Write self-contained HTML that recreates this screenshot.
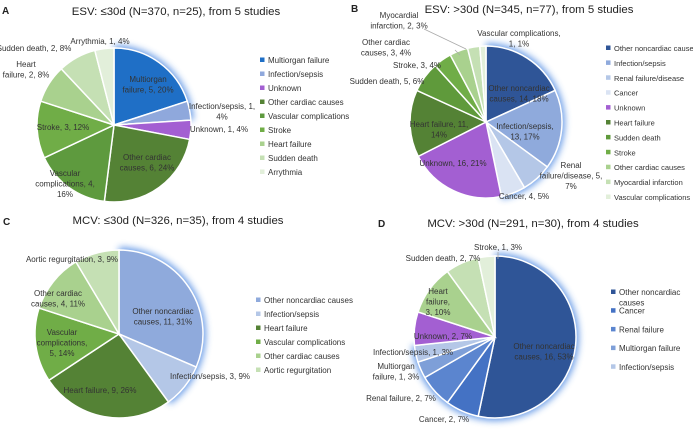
<!DOCTYPE html>
<html><head><meta charset="utf-8">
<style>
html,body{margin:0;padding:0;background:#fff;}
svg{display:block;font-family:"Liberation Sans",Arial,sans-serif;}
</style></head>
<body>
<svg id="fig" width="693" height="430" viewBox="0 0 693 430">
<defs>
<filter id="glow" x="-30%" y="-30%" width="160%" height="160%"><feGaussianBlur stdDeviation="3.5"/></filter>
</defs>
<g font-size="11.4" fill="#222">
<text x="2" y="14" font-weight="bold" font-size="10">A</text>
<text x="176" y="15" text-anchor="middle">ESV: ≤30d (N=370, n=25), from 5 studies</text>
<text x="351" y="12" font-weight="bold" font-size="10">B</text>
<text x="529" y="13" text-anchor="middle">ESV: &gt;30d (N=345, n=77), from 5 studies</text>
<text x="3" y="225" font-weight="bold" font-size="10">C</text>
<text x="178" y="224" text-anchor="middle">MCV: ≤30d (N=326, n=35), from 4 studies</text>
<text x="378" y="227" font-weight="bold" font-size="10">D</text>
<text x="533" y="227" text-anchor="middle">MCV: &gt;30d (N=291, n=30), from 4 studies</text>
</g>
</svg>
<script>
// ---- Chart A data ----
const catsA = ["Multiorgan failure","Infection/sepsis","Unknown","Other cardiac causes","Vascular complications","Stroke","Heart failure","Sudden death","Arrythmia"];
const valsA = [5,1,1,6,4,3,2,2,1];
const pctA = [20,4,4,24,16,12,8,8,4];
const lblA = ["Multiorgan|failure, {v}, {p}%","Infection/sepsis, {v},|{p}%","Unknown, {v}, {p}%","Other cardiac|causes, {v}, {p}%","Vascular|complications, {v},|{p}%","Stroke, {v}, {p}%","Heart|failure, {v}, {p}%","Sudden death, {v}, {p}%","Arrythmia, {v}, {p}%"];
// ---- Chart B data ----
const catsB = ["Other noncardiac causes","Infection/sepsis","Renal failure/disease","Cancer","Unknown","Heart failure","Sudden death","Stroke","Other cardiac causes","Myocardial infarction","Vascular complications"];
const valsB = [14,13,5,4,16,11,5,3,3,2,1];
const pctB = [18,17,7,5,21,14,6,4,4,3,1];
const lblB = ["Other noncardiac|causes, {v}, {p}%","Infection/sepsis,|{v}, {p}%","Renal|failure/disease, {v},|{p}%","Cancer, {v}, {p}%","Unknown, {v}, {p}%","Heart failure, {v},|{p}%","Sudden death, {v}, {p}%","Stroke, {v}, {p}%","Other cardiac|causes, {v}, {p}%","Myocardial|infarction, {v}, {p}%","Vascular complications,|{v}, {p}%"];
// ---- Chart C data ----
const catsC = ["Other noncardiac causes","Infection/sepsis","Heart failure","Vascular complications","Other cardiac causes","Aortic regurgitation"];
const valsC = [11,3,9,5,4,3];
const pctC = [31,9,26,14,11,9];
const lblC = ["Other noncardiac|causes, {v}, {p}%","Infection/sepsis, {v}, {p}%","Heart failure, {v}, {p}%","Vascular|complications,|{v}, {p}%","Other cardiac|causes, {v}, {p}%","Aortic regurgitation, {v}, {p}%"];
// ---- Chart D data ----
const catsD = ["Other noncardiac causes","Cancer","Renal failure","Multiorgan failure","Infection/sepsis","Unknown","Heart failure","Sudden death","Stroke"];
const valsD = [16,2,2,1,1,2,3,2,1];
const pctD = [53,7,7,3,3,7,10,7,3];
const lblD = ["Other noncardiac|causes, {v}, {p}%","Cancer, {v}, {p}%","Renal failure, {v}, {p}%","Multiorgan|failure, {v}, {p}%","Infection/sepsis, {v}, {p}%","Unknown, {v}, {p}%","Heart|failure,|{v}, {p}%","Sudden death, {v}, {p}%","Stroke, {v}, {p}%"];

const NS = "http://www.w3.org/2000/svg";
const svg = document.getElementById("fig");
function mk(tag, attrs, parent){const e=document.createElementNS(NS,tag);for(const k in attrs)e.setAttribute(k,attrs[k]);(parent||svg).appendChild(e);return e;}

function arcPath(cx,cy,r,a0,a1){
  const x0=cx+r*Math.sin(a0),y0=cy-r*Math.cos(a0),x1=cx+r*Math.sin(a1),y1=cy-r*Math.cos(a1);
  const large=(a1-a0)>Math.PI?1:0;
  return `M${cx},${cy}L${x0},${y0}A${r},${r} 0 ${large} 1 ${x1},${y1}Z`;
}

function drawPie(o){
  const g=mk("g",{});
  
  
  const total=o.vals.reduce((a,b)=>a+b,0);
  const ang=v=>v/total*2*Math.PI;
  let gsum=0;for(let i=0;i<o.glowN;i++)gsum+=o.vals[i];
  const gl=mk("path",{d:arcPath(o.cx,o.cy,o.r+3,0,ang(gsum)-0.001),fill:"#3d7fe0",opacity:"0.75",filter:"url(#glow)"},g);
  
  
  let a=0;
  o.vals.forEach((v,i)=>{
    const p=mk("path",{d:arcPath(o.cx,o.cy,o.r,a,a+ang(v)),fill:o.colors[i],stroke:"#fff","stroke-width":"1.5"},g);
    
    
    a+=ang(v);
  });
  (o.leaders||[]).forEach(l=>{
    const ln=mk("line",{x1:l[0],y1:l[1],x2:l[2],y2:l[3],stroke:"#aaa","stroke-width":"0.8"},g);
    
    
  });
  o.labels.forEach((tpl,i)=>{
    const lines=tpl.replace("{v}",o.vals[i]).replace("{p}",o.pcts[i]).split("|");
    const pos=o.lpos[i];
    const t=mk("text",{x:pos[0],y:pos[1],"text-anchor":"middle","font-size":"8",fill:"#333"},g);
    
    
    lines.forEach((s,j)=>{const ts=mk("tspan",{x:pos[0],dy:j?10.5:0},t);ts.textContent=s;});
  });
  const lg=mk("g",{},g);
  
  
  let y=o.ly;
  const fs=o.lfs||8;
  for(let i=0;i<o.legN;i++){
    const e=mk("g",{},lg);
    
    
    mk("rect",{x:o.lx,y:y-4.5,width:4.5,height:4.5,fill:o.colors[i]},e);
    const parts=(o.legWrap&&o.legWrap[i])?o.legWrap[i]:[o.cats[i]];
    parts.forEach((s,j)=>{const t=mk("text",{x:o.lx+8,y:y+1+j*10.5,"font-size":fs,fill:"#333"},e);t.textContent=s;});
    y+=o.lstep;
  }
}

drawPie({name:"pie-a",cats:catsA,vals:valsA,pcts:pctA,labels:lblA,cx:114,cy:125,r:77,glowN:2,
  colors:["#1f6fc6","#8fa8dc","#a35fd2","#548235","#5e9a3e","#70ad47","#a9d18e","#c5e0b4","#e2efda"],
  lpos:[[148,82],[222,109],[219,132],[147,160],[65,176],[63,130],[26,67],[34,51],[100,44]],
  lx:260,ly:62,lstep:14,legN:9});

drawPie({name:"pie-b",cats:catsB,vals:valsB,pcts:pctB,labels:lblB,cx:486,cy:122,r:76,glowN:4,
  colors:["#2f5597","#8faadc","#b4c7e7","#dae3f3","#a35fd2","#548235","#5f9a3b","#70ad47","#a9d18e","#c5e0b4","#e2efda"],
  lpos:[[519,91],[525,129],[571,168],[524,199],[453,166],[439,127],[387,84],[417,68],[386,45],[399,18],[519,36]],
  leaders:[[424,29,466,49],[455,50,460,55]],
  lx:606,ly:50,lstep:14.9,legN:11,lfs:7.5});

drawPie({name:"pie-c",cats:catsC,vals:valsC,pcts:pctC,labels:lblC,cx:119,cy:334,r:84,glowN:2,
  colors:["#8faadc","#b4c7e7","#548235","#70ad47","#a9d18e","#c5e0b4"],
  lpos:[[163,314],[210,379],[100,393],[62,335],[58,296],[72,262]],
  lx:256,ly:302,lstep:14,legN:6});

drawPie({name:"pie-d",cats:catsD,vals:valsD,pcts:pctD,labels:lblD,cx:495,cy:337,r:81,glowN:5,
  colors:["#2f5597","#4472c4","#5b85cf","#7e9fd8","#b4c7e7","#a35fd2","#a9d18e","#c5e0b4","#e2efda"],
  lpos:[[544,349],[444,422],[401,401],[396,369],[413,355],[443,339],[438,294],[443,261],[498,250]],
  leaders:[[498,252,498,259]],
  lx:611,ly:294,lstep:18.7,legN:5,legWrap:[["Other noncardiac","causes"]]});
</script>
</body></html>
